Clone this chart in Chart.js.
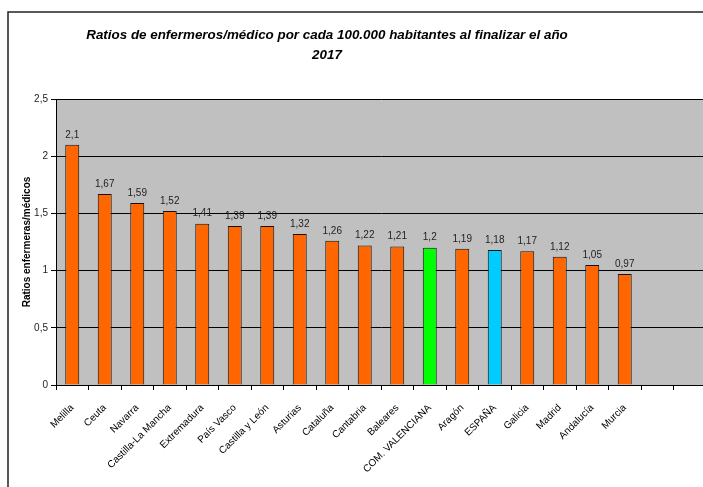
<!DOCTYPE html>
<html>
<head>
<meta charset="utf-8">
<style>
  html, body { margin: 0; padding: 0; background: #fff; overflow: hidden; }
  #wrap { width: 712px; height: 487px; }
</style>
<script src="https://cdn.jsdelivr.net/npm/chart.js"></script>
</head>
<body>
<div id="wrap"><canvas id="chart" width="712" height="487"></canvas></div>
<script>
const regiones = ['Melilla', 'Ceuta', 'Navarra', 'Castilla-La Mancha', 'Extremadura', 'País Vasco',
  'Castilla y León', 'Asturias', 'Cataluña', 'Cantabria', 'Baleares', 'COM. VALENCIANA',
  'Aragón', 'ESPAÑA', 'Galicia', 'Madrid', 'Andalucía', 'Murcia'];
const ratios = [2.1, 1.67, 1.59, 1.52, 1.41, 1.39, 1.39, 1.32, 1.26, 1.22, 1.21, 1.2,
  1.19, 1.18, 1.17, 1.12, 1.05, 0.97];
const yTicks = [0, 0.5, 1, 1.5, 2, 2.5];
const titulo = ['Ratios de enfermeros/médico por cada 100.000 habitantes al finalizar el año', '2017'];

// two empty slots at the end, like the original sheet
const labels = regiones.concat(['', '']);
const colores = regiones.map(r => r === 'COM. VALENCIANA' ? '#00FF00' : (r === 'ESPAÑA' ? '#00CCFF' : '#FF6600'));

const coma = v => String(v).replace('.', ',');
const FONT = '"Liberation Sans", Arial, sans-serif';

const fondoPlot = {
  id: 'fondoPlot',
  beforeDraw(chart) {
    const { ctx, chartArea: a } = chart;
    ctx.save();
    ctx.fillStyle = '#C0C0C0';
    ctx.fillRect(a.left, a.top, a.right - a.left, a.bottom - a.top);
    // outer frame
    ctx.strokeStyle = '#222';
    ctx.lineWidth = 1.5;
    ctx.strokeRect(8, 12, 760, 520);
    // title
    ctx.fillStyle = '#000';
    ctx.font = 'italic bold 13.4px ' + FONT;
    ctx.textAlign = 'center';
    ctx.textBaseline = 'middle';
    titulo.forEach((t, i) => ctx.fillText(t, 327, 35 + i * 20));
    ctx.restore();
  }
};

const etiquetas = {
  id: 'etiquetas',
  afterDatasetsDraw(chart) {
    const { ctx } = chart;
    const meta = chart.getDatasetMeta(0);
    ctx.save();
    ctx.font = '10px ' + FONT;
    ctx.fillStyle = '#222';
    ctx.textAlign = 'center';
    ctx.textBaseline = 'bottom';
    meta.data.forEach((bar, i) => {
      const v = ratios[i];
      if (v == null) return;
      ctx.fillText(coma(v), bar.x, bar.y - 5);
    });
    ctx.restore();
  }
};

new Chart(document.getElementById('chart'), {
  type: 'bar',
  data: {
    labels: labels,
    datasets: [{
      data: ratios,
      backgroundColor: colores,
      borderColor: '#111',
      borderWidth: 1,
      barPercentage: 0.43,
      categoryPercentage: 1
    }]
  },
  options: {
    responsive: false,
    animation: false,
    layout: { padding: { left: 8, top: 99, right: 6, bottom: 2 } },
    plugins: {
      legend: { display: false },
      tooltip: { enabled: false },
      title: { display: false }
    },
    scales: {
      x: {
        grid: { display: true, drawOnChartArea: false, offset: true, color: '#000', tickLength: 5 },
        border: { color: '#000', width: 1 },
        ticks: {
          color: '#000',
          padding: 12,
          font: { family: FONT, size: 10 },
          minRotation: 45, maxRotation: 45, autoSkip: false
        },
        afterFit(s) { s.height = 100; }
      },
      y: {
        min: 0, max: 2.5,
        afterBuildTicks(s) { s.ticks = yTicks.map(v => ({ value: v })); },
        grid: { color: '#000', tickLength: 5 },
        border: { color: '#000', width: 1 },
        ticks: {
          color: '#222',
          padding: 3,
          font: { family: FONT, size: 10 },
          callback: v => coma(v)
        },
        title: {
          display: true,
          text: 'Ratios enfermeras/médicos',
          color: '#000',
          font: { family: FONT, size: 10, weight: 'bold' },
          padding: { top: 13, bottom: 4 }
        },
        afterFit(s) { s.width = 48; }
      }
    }
  },
  plugins: [fondoPlot, etiquetas]
});
</script>
</body>
</html>
